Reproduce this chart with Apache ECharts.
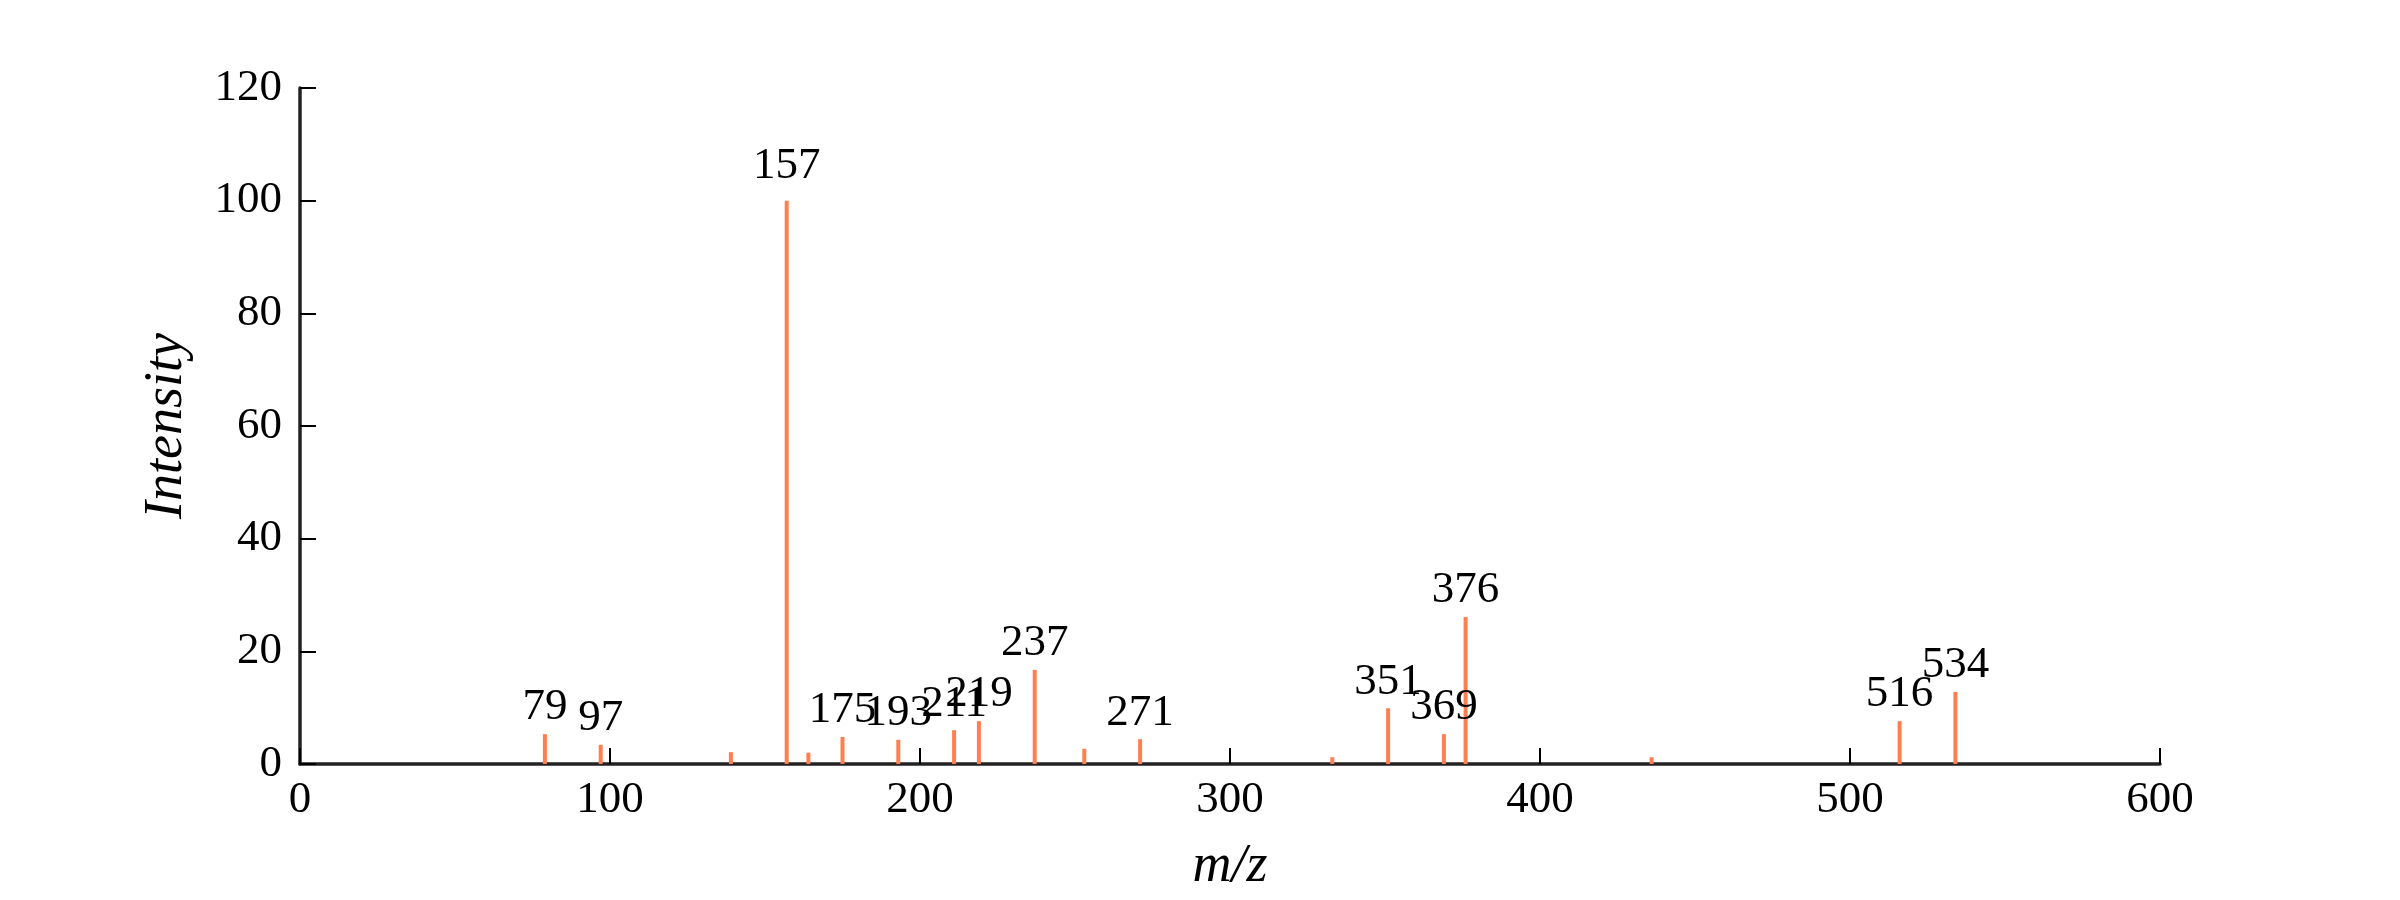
<!DOCTYPE html>
<html>
<head>
<meta charset="utf-8">
<script src="https://cdn.jsdelivr.net/npm/echarts@6/dist/echarts.min.js"></script>
<style>
html,body{margin:0;padding:0;background:#fff;}
#chart{width:2400px;height:900px;}
</style>
</head>
<body>
<div id="chart"></div>
<script>
// m/z values of peaks
var mzValues = [79, 97, 139, 157, 164, 175, 193, 211, 219, 237, 253, 271, 333, 351, 369, 376, 436, 516, 534];
// relative intensities
var intensities = [5.3, 3.4, 2.1, 100, 2.0, 4.8, 4.3, 6.0, 7.6, 16.7, 2.7, 4.4, 1.2, 9.9, 5.3, 26.1, 1.2, 7.6, 12.8];
// peaks that carry a text label
var labeledPeaks = [79, 97, 157, 175, 193, 211, 219, 237, 271, 351, 369, 376, 516, 534];
// axis ranges / tick steps
var xTicks = [0, 100, 200, 300, 400, 500, 600];
var yTicks = [0, 20, 40, 60, 80, 100, 120];

var serif = 'Liberation Serif';
var peakColor = '#FF7F50';
var axisColor = '#222222';
var maxIntensity = Math.max.apply(null, intensities);

var data = mzValues.map(function (mz, i) {
  var show = labeledPeaks.indexOf(mz) >= 0;
  var isBase = intensities[i] === maxIntensity;
  return {
    value: [mz, intensities[i]],
    label: { show: show, distance: isBase ? 12 : 4 }
  };
});

var chart = echarts.init(document.getElementById('chart'), null, { renderer: 'canvas' });
chart.setOption({
  animation: false,
  backgroundColor: '#ffffff',
  grid: { left: 300, right: 240, top: 88, bottom: 136, containLabel: false },
  xAxis: {
    type: 'value',
    min: xTicks[0],
    max: xTicks[xTicks.length - 1],
    interval: 100,
    name: 'm/z',
    nameLocation: 'middle',
    nameGap: 76,
    nameTextStyle: { fontFamily: serif, fontStyle: 'italic', fontSize: 54, color: '#000' },
    axisLine: { show: true, lineStyle: { color: axisColor, width: 3.5 } },
    axisTick: { show: true, inside: true, length: 16, lineStyle: { color: '#000', width: 2 } },
    axisLabel: { margin: 14, fontFamily: serif, fontSize: 45, color: '#000' },
    splitLine: { show: false }
  },
  yAxis: {
    type: 'value',
    min: yTicks[0],
    max: yTicks[yTicks.length - 1],
    interval: 20,
    name: 'Intensity',
    nameLocation: 'middle',
    nameGap: 106,
    nameTextStyle: { fontFamily: serif, fontStyle: 'italic', fontSize: 54, color: '#000' },
    axisLine: { show: true, lineStyle: { color: axisColor, width: 3.5 } },
    axisTick: { show: true, inside: true, length: 16, lineStyle: { color: '#000', width: 2 } },
    axisLabel: { margin: 18, fontFamily: serif, fontSize: 45, color: '#000' },
    splitLine: { show: false }
  },
  series: [{
    type: 'bar',
    barWidth: 4,
    itemStyle: { color: peakColor },
    label: {
      position: 'top',
      fontFamily: serif,
      fontSize: 45,
      color: '#000',
      formatter: function (p) { return String(p.value[0]); }
    },
    data: data
  }]
});
</script>
</body>
</html>
